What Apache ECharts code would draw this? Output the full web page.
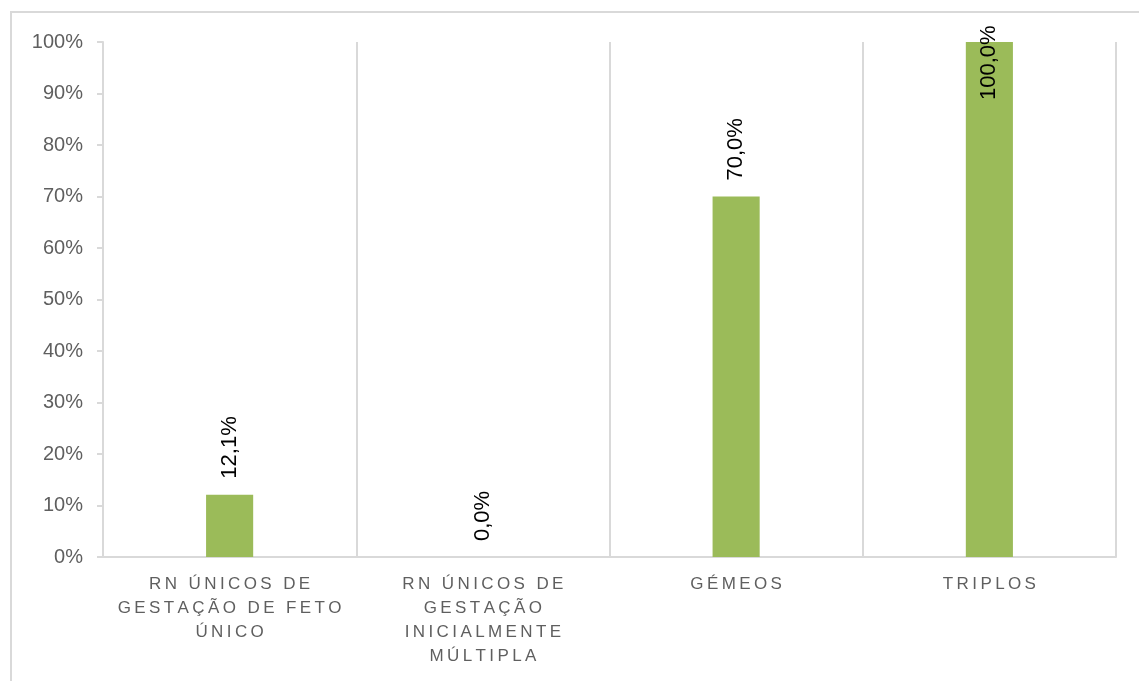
<!DOCTYPE html>
<html>
<head>
<meta charset="utf-8">
<title>RN por tipo de gestação</title>
<script src="https://cdn.jsdelivr.net/npm/echarts@6/dist/echarts.min.js"></script>
<style>
  html, body { margin: 0; padding: 0; background: #fff; }
  .frame {
    position: absolute;
    left: 10px;
    top: 11px;
    width: 1200px;
    height: 800px;
    border: 2px solid #d9d9d9;
    box-sizing: border-box;
  }
  #chart { position: absolute; left: 0; top: 0; width: 1139px; height: 681px; }
</style>
</head>
<body>
<div class="frame"></div>
<div id="chart"></div>
<script>
const categories = [
  'RN ÚNICOS DE\nGESTAÇÃO DE FETO\nÚNICO',
  'RN ÚNICOS DE\nGESTAÇÃO\nINICIALMENTE\nMÚLTIPLA',
  'GÉMEOS',
  'TRIPLOS'
]
const values = [12.1, 0.0, 70.0, 100.0]
const yTicks = [0, 10, 20, 30, 40, 50, 60, 70, 80, 90, 100]

const gridColor = '#d9d9d9'
const textGray = '#5f5f5f'
const barGreen = '#9bbb59'

// spread letters like the wide-tracked Excel category labels
const spaced = (text) => text.split('\n')
  .map((line) => line.split('').join('\u2009'))
  .join('\n')

const fmtPct = (v) => v.toFixed(1).replace('.', ',') + '%'

const barData = values.map((v) => {
  if (v >= 100) {
    // label would leave the plot, pull it down into the bar like Excel does
    return { value: v, label: { position: ['50%', 58] } }
  }
  return v
})

const chart = echarts.init(document.getElementById('chart'))

chart.setOption({
  animation: false,
  grid: { left: 103, right: 23, top: 42, bottom: 124 },
  xAxis: {
    type: 'category',
    data: categories,
    axisLine: { lineStyle: { color: gridColor, width: 2 } },
    axisTick: { show: false },
    splitLine: { show: true, interval: 0, lineStyle: { color: gridColor, width: 2 } },
    axisLabel: {
      interval: 0,
      margin: 15,
      color: textGray,
      fontSize: 17,
      lineHeight: 24,
      fontFamily: 'Liberation Sans, Arial, sans-serif',
      formatter: (value) => spaced(value)
    }
  },
  yAxis: {
    type: 'value',
    min: 0,
    max: 100,
    interval: 10,
    axisLine: { show: true, lineStyle: { color: gridColor, width: 2 } },
    axisTick: { show: true, length: 6, lineStyle: { color: gridColor, width: 2 } },
    splitLine: { show: false },
    axisLabel: {
      margin: 20,
      color: textGray,
      fontSize: 20,
      fontFamily: 'Liberation Sans, Arial, sans-serif',
      formatter: (v) => (yTicks.includes(v) ? v + '%' : '')
    }
  },
  series: [
    {
      type: 'bar',
      data: barData,
      barWidth: '18.6%',
      itemStyle: { color: barGreen },
      label: {
        show: true,
        position: 'top',
        distance: 16,
        rotate: 90,
        align: 'left',
        verticalAlign: 'middle',
        color: '#000',
        fontSize: 22,
        fontFamily: 'Liberation Sans, Arial, sans-serif',
        formatter: (p) => fmtPct(p.value)
      }
    }
  ]
})
</script>
</body>
</html>
